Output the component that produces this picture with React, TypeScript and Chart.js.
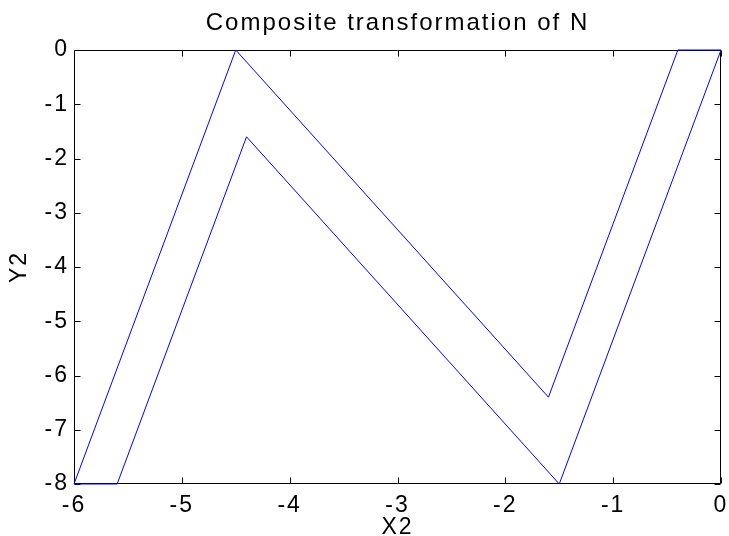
import React, { useEffect, useRef } from "react";
import { Chart, registerables } from "chart.js";

Chart.register(...registerables);

const chartTitle = "Composite transformation of N";
const xAxisLabel = "X2";
const yAxisLabel = "Y2";
const xTicks = [-6, -5, -4, -3, -2, -1, 0];
const yTicks = [-8, -7, -6, -5, -4, -3, -2, -1, 0];
const shapeX = [-6, -4.5, -1.6, -0.4, 0, -1.5, -4.4, -5.6, -6];
const shapeY = [-8, 0, -6.4, 0, 0, -8, -1.6, -8, -8];

const FONT = "'Liberation Sans', Arial, sans-serif";

const spacingPlugin = {
  id: "textSpacing",
  beforeDraw(chart: any) {
    const ctx = chart.ctx as any;
    if ("letterSpacing" in ctx) ctx.letterSpacing = "2px";
  },
  afterDraw(chart: any) {
    const ctx = chart.ctx as any;
    if ("letterSpacing" in ctx) ctx.letterSpacing = "0px";
  },
};

const boxPlugin = {
  id: "matlabBox",
  beforeDatasetsDraw(chart: any) {
    const { ctx, chartArea: a, scales } = chart;
    const L = Math.round(a.left) + 0.5;
    const R = Math.round(a.right) - 0.5;
    const T = Math.round(a.top) + 0.5;
    const B = Math.round(a.bottom) - 0.5;
    const len = 6;
    ctx.save();
    ctx.strokeStyle = "#000";
    ctx.lineWidth = 1;
    ctx.beginPath();
    ctx.rect(L, T, R - L, B - T);
    for (const v of xTicks) {
      const px = Math.round(scales.x.getPixelForValue(v)) + 0.5;
      ctx.moveTo(px, B);
      ctx.lineTo(px, B - len);
      ctx.moveTo(px, T);
      ctx.lineTo(px, T + len);
    }
    for (const v of yTicks) {
      const py = Math.round(scales.y.getPixelForValue(v)) + 0.5;
      ctx.moveTo(L, py);
      ctx.lineTo(L + len, py);
      ctx.moveTo(R, py);
      ctx.lineTo(R - len, py);
    }
    ctx.stroke();
    ctx.restore();
  },
};

export default function App() {
  const ref = useRef<HTMLCanvasElement | null>(null);

  useEffect(() => {
    document.body.style.margin = "0";
    document.body.style.overflow = "hidden";
    const canvas = ref.current;
    if (!canvas) return;
    const points = shapeX.map((x, i) => ({ x, y: shapeY[i] }));
    const chart = new Chart(canvas, {
      type: "scatter",
      data: {
        datasets: [
          {
            data: points,
            showLine: true,
            borderColor: "#0000ff",
            borderWidth: 1,
            pointRadius: 0,
            fill: false,
            tension: 0,
            clip: 3,
          } as any,
        ],
      },
      plugins: [spacingPlugin, boxPlugin],
      options: {
        animation: false,
        responsive: false,
        maintainAspectRatio: false,
        devicePixelRatio: 1,
        layout: { padding: { left: 0, right: 8, top: 0, bottom: 0 } },
        plugins: {
          legend: { display: false },
          tooltip: { enabled: false },
          title: {
            display: true,
            fullSize: false,
            text: chartTitle,
            color: "#000",
            font: { family: FONT, size: 24, weight: "normal", lineHeight: 1.2 },
            padding: { top: 9.3, bottom: 11.9 },
          },
        },
        scales: {
          x: {
            type: "linear",
            min: -6,
            max: 0,
            afterBuildTicks: (s: any) => {
              s.ticks = xTicks.map((v) => ({ value: v }));
            },
            afterFit: (s: any) => {
              s.height = 52;
              s.paddingLeft = 0;
              s.paddingRight = 0;
            },
            grid: { display: false, drawTicks: false },
            border: { display: false },
            ticks: {
              color: "#000",
              padding: 8,
              maxRotation: 0,
              autoSkip: false,
              font: { family: FONT, size: 23 },
              callback: (v: any) => String(v),
            },
            title: {
              display: true,
              text: xAxisLabel,
              color: "#000",
              font: { family: FONT, size: 23 },
              padding: { top: 0, bottom: -5 },
            },
          },
          y: {
            type: "linear",
            min: -8,
            max: 0,
            afterBuildTicks: (s: any) => {
              s.ticks = yTicks.map((v) => ({ value: v }));
            },
            afterFit: (s: any) => {
              s.width = 74;
              s.paddingTop = 0;
              s.paddingBottom = 0;
            },
            grid: { display: false, drawTicks: false },
            border: { display: false },
            ticks: {
              color: "#000",
              padding: 5,
              autoSkip: false,
              font: { family: FONT, size: 23 },
              callback: (v: any) => String(v),
            },
            title: {
              display: true,
              text: yAxisLabel,
              color: "#000",
              font: { family: FONT, size: 23 },
              padding: { top: 5.4, bottom: 0 },
            },
          },
        },
      },
    });
    return () => chart.destroy();
  }, []);

  return (
    <div style={{ width: 729, height: 536, background: "#fff" }}>
      <canvas ref={ref} width={729} height={536} style={{ display: "block" }} />
    </div>
  );
}
